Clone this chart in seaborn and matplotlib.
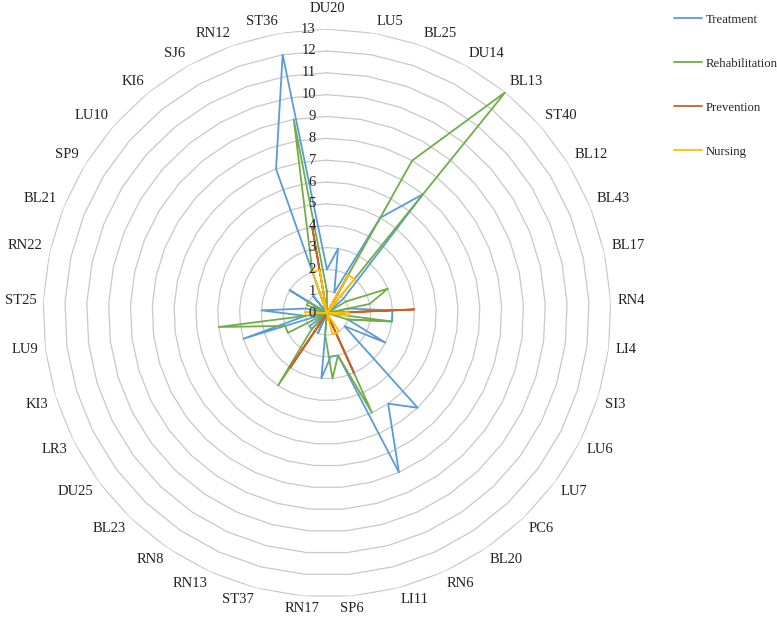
import numpy as np
import pandas as pd
import matplotlib
matplotlib.use("Agg")
import matplotlib.pyplot as plt
import seaborn as sns

# acupoints clockwise from the top
acupoints = ["DU20", "LU5", "BL25", "DU14", "BL13", "ST40", "BL12", "BL43", "BL17",
             "RN4", "LI4", "SI3", "LU6", "LU7", "PC6", "BL20", "RN6", "LI11", "SP6",
             "RN17", "ST37", "RN13", "RN8", "BL23", "DU25", "LR3", "KI3", "LU9",
             "ST25", "RN22", "BL21", "SP9", "LU10", "KI6", "SJ6", "RN12", "ST36"]

treatment = [2, 3, 1, 5, 7, 1, 0, 0, 1, 3, 3, 1, 3, 1, 6, 5, 8, 2, 2,
             3, 0, 1, 0, 1, 1, 0, 4, 1, 3, 1, 0, 2, 0, 1, 0, 7, 12]
rehabilitation = [1, 0, 0, 8, 13, 0, 1, 3, 2, 0, 3, 1, 0, 0, 0, 0, 5, 2, 3,
                  1, 0, 0, 4, 1, 0, 2, 2, 5, 0, 0, 1, 1, 0, 0, 0, 2, 9]
prevention = [0, 0, 0, 2, 0, 0, 0, 0, 0, 4, 0, 0, 0, 0, 0, 0, 3, 0, 0,
              0, 0, 0, 3, 0, 0, 0, 0, 0, 0, 0, 0, 0, 0, 0, 0, 0, 4]
nursing = [0, 0, 0, 2, 2, 0, 0, 0, 0, 1, 1, 0, 0, 0, 0, 1, 1, 1, 0,
           0, 0, 0, 0, 0, 0, 0, 0, 0, 1, 0, 0, 0, 0, 0, 0, 2, 2]

series_names = ["Treatment", "Rehabilitation", "Prevention", "Nursing"]
colors = ["#5B9BD5", "#70AD47", "#C8602A", "#FFC000"]
levels = list(range(0, 14))

sns.set_theme(style="white")
plt.rcParams["font.family"] = ["Liberation Serif", "DejaVu Serif"]

n = len(acupoints)
angles = np.arange(n) * 2 * np.pi / n
closed = np.append(angles, 2 * np.pi)

rows = []
for name, vals in zip(series_names, [treatment, rehabilitation, prevention, nursing]):
    for k in range(n + 1):
        rows.append({"series": name, "theta": closed[k], "value": vals[k % n]})
df = pd.DataFrame(rows)

fig = plt.figure(figsize=(7.77, 6.17), dpi=100)
# centre at about (327, 313) px, ring 13 about 284 px out
ax = fig.add_axes([0.0553, 0.032, 0.731, 0.921], projection="polar")
ax.set_theta_zero_location("N")
ax.set_theta_direction(-1)
ax.set_ylim(0, 13)
ax.grid(False)
ax.spines["polar"].set_visible(False)
ax.set_xticks([])
ax.set_yticks([])

# polygon rings like the spreadsheet radar grid
for lvl in levels[1:]:
    ax.plot(closed, [lvl] * (n + 1), color="#C8C8C8", lw=0.9, zorder=0)

sns.lineplot(data=df, x="theta", y="value", hue="series", palette=colors,
             sort=False, estimator=None, linewidth=1.3, ax=ax, legend=False)
ax.set_xlabel("")
ax.set_ylabel("")

for lvl in levels:
    ax.annotate(str(lvl), xy=(0, lvl), xytext=(-8, 0), textcoords="offset points",
                ha="right", va="center", fontsize=10.5, color="#222222")

for i, (ang, name) in enumerate(zip(angles, acupoints)):
    s, c = np.sin(ang), np.cos(ang)
    ha = "left" if s > 0.15 else ("right" if s < -0.15 else "center")
    va = "bottom" if c > 0.15 else ("top" if c < -0.15 else "center")
    dy = 4 * c + (6 if i == 0 else 0)
    ax.annotate(name, xy=(ang, 13), xytext=(5 * s, dy), textcoords="offset points",
                ha=ha, va=va, fontsize=10.5, color="#222222", annotation_clip=False)

handles = [plt.Line2D([], [], color=col, lw=1.3) for col in colors]
fig.legend(handles, series_names, loc="upper left", bbox_to_anchor=(0.852, 0.996),
           frameon=False, fontsize=9.2, handlelength=2.2, labelspacing=2.5,
           handletextpad=0.3)

fig.savefig("out.png", dpi=100)
